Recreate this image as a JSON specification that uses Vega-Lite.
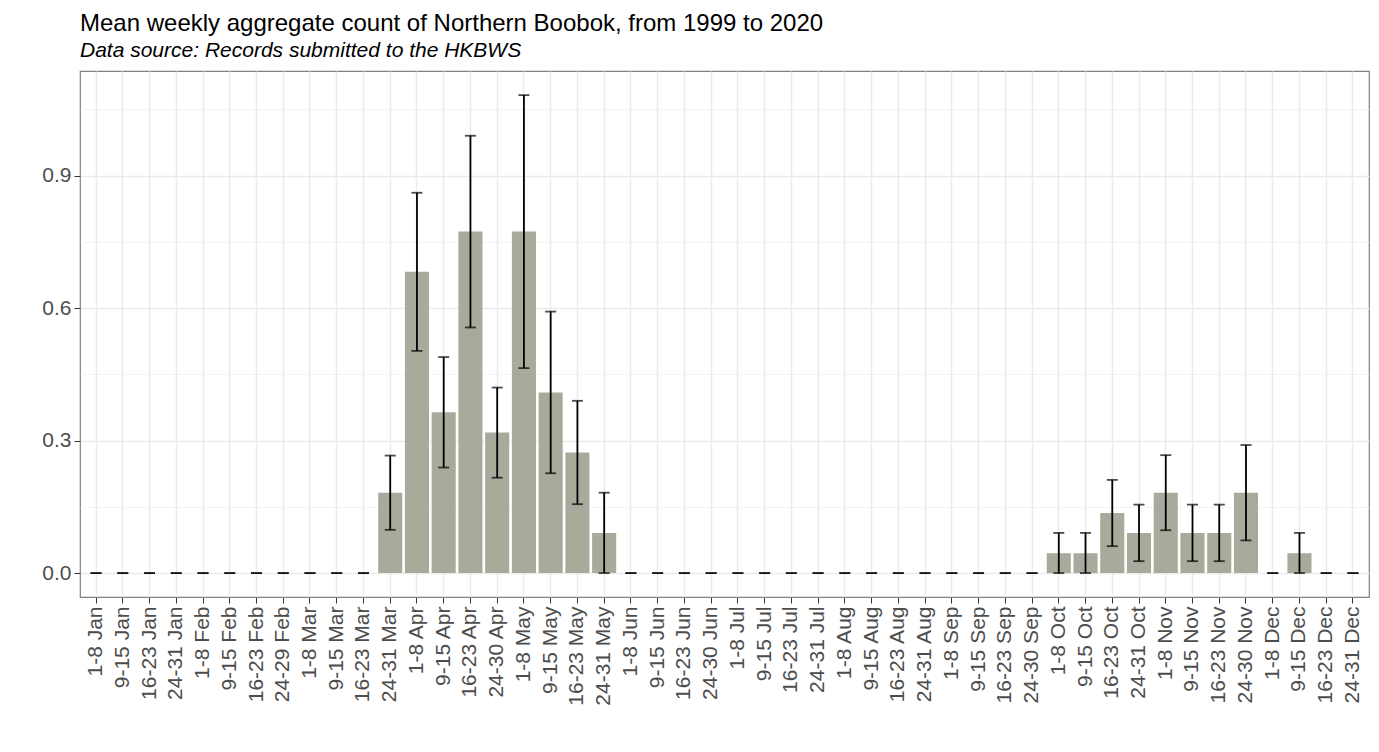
{
  "$schema": "https://vega.github.io/schema/vega-lite/v6.json",
  "width": 1289,
  "height": 526,
  "autosize": "none",
  "padding": {"left": 80, "top": 71, "right": 10, "bottom": 155},
  "config": {
    "font": "Liberation Sans",
    "view": {"stroke": "#808080", "strokeWidth": 1.2},
    "background": "white"
  },
  "title": {
    "text": "Mean weekly aggregate count of Northern Boobok, from 1999 to 2020",
    "subtitle": "Data source: Records submitted to the HKBWS",
    "anchor": "start",
    "frame": "group",
    "fontSize": 24,
    "fontWeight": "normal",
    "color": "#000000",
    "subtitleFontSize": 21,
    "subtitleFontStyle": "italic",
    "subtitleColor": "#000000",
    "subtitlePadding": 4,
    "offset": 10
  },
  "data": {
    "values": [
      {"week": "1-8 Jan", "mean": 0, "lo": 0, "hi": 0},
      {"week": "9-15 Jan", "mean": 0, "lo": 0, "hi": 0},
      {"week": "16-23 Jan", "mean": 0, "lo": 0, "hi": 0},
      {"week": "24-31 Jan", "mean": 0, "lo": 0, "hi": 0},
      {"week": "1-8 Feb", "mean": 0, "lo": 0, "hi": 0},
      {"week": "9-15 Feb", "mean": 0, "lo": 0, "hi": 0},
      {"week": "16-23 Feb", "mean": 0, "lo": 0, "hi": 0},
      {"week": "24-29 Feb", "mean": 0, "lo": 0, "hi": 0},
      {"week": "1-8 Mar", "mean": 0, "lo": 0, "hi": 0},
      {"week": "9-15 Mar", "mean": 0, "lo": 0, "hi": 0},
      {"week": "16-23 Mar", "mean": 0, "lo": 0, "hi": 0},
      {"week": "24-31 Mar", "mean": 0.182, "lo": 0.098, "hi": 0.266},
      {"week": "1-8 Apr", "mean": 0.682, "lo": 0.503, "hi": 0.861},
      {"week": "9-15 Apr", "mean": 0.364, "lo": 0.239, "hi": 0.489},
      {"week": "16-23 Apr", "mean": 0.773, "lo": 0.556, "hi": 0.99},
      {"week": "24-30 Apr", "mean": 0.318, "lo": 0.216, "hi": 0.42},
      {"week": "1-8 May", "mean": 0.773, "lo": 0.464, "hi": 1.082},
      {"week": "9-15 May", "mean": 0.409, "lo": 0.226, "hi": 0.592},
      {"week": "16-23 May", "mean": 0.273, "lo": 0.156, "hi": 0.39},
      {"week": "24-31 May", "mean": 0.091, "lo": 0, "hi": 0.182},
      {"week": "1-8 Jun", "mean": 0, "lo": 0, "hi": 0},
      {"week": "9-15 Jun", "mean": 0, "lo": 0, "hi": 0},
      {"week": "16-23 Jun", "mean": 0, "lo": 0, "hi": 0},
      {"week": "24-30 Jun", "mean": 0, "lo": 0, "hi": 0},
      {"week": "1-8 Jul", "mean": 0, "lo": 0, "hi": 0},
      {"week": "9-15 Jul", "mean": 0, "lo": 0, "hi": 0},
      {"week": "16-23 Jul", "mean": 0, "lo": 0, "hi": 0},
      {"week": "24-31 Jul", "mean": 0, "lo": 0, "hi": 0},
      {"week": "1-8 Aug", "mean": 0, "lo": 0, "hi": 0},
      {"week": "9-15 Aug", "mean": 0, "lo": 0, "hi": 0},
      {"week": "16-23 Aug", "mean": 0, "lo": 0, "hi": 0},
      {"week": "24-31 Aug", "mean": 0, "lo": 0, "hi": 0},
      {"week": "1-8 Sep", "mean": 0, "lo": 0, "hi": 0},
      {"week": "9-15 Sep", "mean": 0, "lo": 0, "hi": 0},
      {"week": "16-23 Sep", "mean": 0, "lo": 0, "hi": 0},
      {"week": "24-30 Sep", "mean": 0, "lo": 0, "hi": 0},
      {"week": "1-8 Oct", "mean": 0.045, "lo": 0, "hi": 0.091},
      {"week": "9-15 Oct", "mean": 0.045, "lo": 0, "hi": 0.091},
      {"week": "16-23 Oct", "mean": 0.136, "lo": 0.061, "hi": 0.211},
      {"week": "24-31 Oct", "mean": 0.091, "lo": 0.027, "hi": 0.155},
      {"week": "1-8 Nov", "mean": 0.182, "lo": 0.097, "hi": 0.267},
      {"week": "9-15 Nov", "mean": 0.091, "lo": 0.027, "hi": 0.155},
      {"week": "16-23 Nov", "mean": 0.091, "lo": 0.027, "hi": 0.155},
      {"week": "24-30 Nov", "mean": 0.182, "lo": 0.074, "hi": 0.29},
      {"week": "1-8 Dec", "mean": 0, "lo": 0, "hi": 0},
      {"week": "9-15 Dec", "mean": 0.045, "lo": 0, "hi": 0.091},
      {"week": "16-23 Dec", "mean": 0, "lo": 0, "hi": 0},
      {"week": "24-31 Dec", "mean": 0, "lo": 0, "hi": 0}
    ]
  },
  "encoding": {
    "x": {
      "field": "week",
      "type": "nominal",
      "sort": null,
      "scale": {"paddingInner": 0.1, "paddingOuter": 0.15},
      "axis": {
        "title": null,
        "labelAngle": -90,
        "labelFontSize": 21,
        "labelColor": "#4D4D4D",
        "labelPadding": 3,
        "tickColor": "#333333",
        "tickSize": 6,
        "domain": false,
        "grid": true,
        "gridColor": "#EBEBEB",
        "gridWidth": 1.5
      }
    }
  },
  "layer": [
    {
      "mark": {"type": "bar", "color": "#A8AA9B"},
      "encoding": {
        "y": {
          "field": "mean",
          "type": "quantitative",
          "scale": {"domain": [-0.0541, 1.1366], "nice": false, "zero": false},
          "axis": {
            "orient": "left",
            "values": [0.15, 0.45, 0.75, 1.05],
            "grid": true,
            "gridColor": "#F0F0F0",
            "gridWidth": 0.8,
            "labels": false,
            "ticks": false,
            "domain": false,
            "title": null
          }
        },
        "y2": {"datum": 0}
      }
    },
    {
      "mark": {"type": "rule", "color": "#000000", "strokeWidth": 1.8},
      "encoding": {
        "y": {
          "field": "lo",
          "type": "quantitative",
          "axis": {
            "orient": "left",
            "values": [0, 0.3, 0.6, 0.9],
            "format": ".1f",
            "grid": true,
            "gridColor": "#EBEBEB",
            "gridWidth": 1.5,
            "labelFontSize": 21,
            "labelColor": "#4D4D4D",
            "labelPadding": 3,
            "tickColor": "#333333",
            "tickSize": 6,
            "domain": false,
            "title": null
          }
        },
        "y2": {"field": "hi"}
      }
    },
    {
      "mark": {"type": "tick", "color": "#000000", "size": 11, "thickness": 1.8},
      "encoding": {
        "y": {"field": "lo", "type": "quantitative", "axis": null}
      }
    },
    {
      "mark": {"type": "tick", "color": "#000000", "size": 11, "thickness": 1.8},
      "encoding": {
        "y": {"field": "hi", "type": "quantitative", "axis": null}
      }
    }
  ],
  "resolve": {"axis": {"y": "independent"}}
}
